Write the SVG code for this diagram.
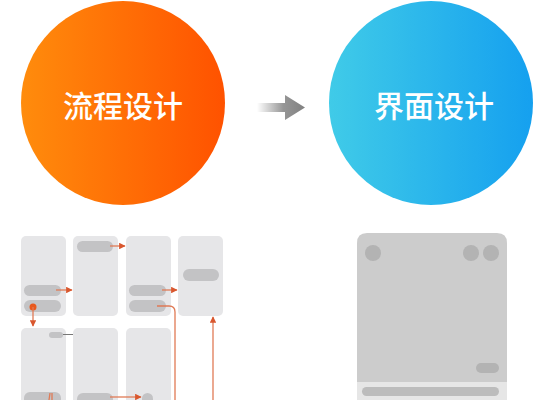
<svg xmlns="http://www.w3.org/2000/svg" width="554" height="400" viewBox="0 0 554 400">
<defs>
<linearGradient id="gOrange" x1="0" y1="0" x2="1" y2="0">
<stop offset="0" stop-color="#ff8c0c"/>
<stop offset="1" stop-color="#ff5200"/>
</linearGradient>
<linearGradient id="gBlue" x1="0" y1="0" x2="1" y2="0">
<stop offset="0" stop-color="#40cbe8"/>
<stop offset="1" stop-color="#15a0ef"/>
</linearGradient>
<linearGradient id="gArrow" x1="257" y1="0" x2="305" y2="0" gradientUnits="userSpaceOnUse">
<stop offset="0" stop-color="#8a8a8a" stop-opacity="0"/>
<stop offset="0.55" stop-color="#8a8a8a" stop-opacity="0.9"/>
<stop offset="1" stop-color="#808080"/>
</linearGradient>
<marker id="ah" viewBox="0 0 10 10" refX="9" refY="5" markerWidth="5" markerHeight="5" orient="auto">
<path d="M0,0 L10,5 L0,10 Z" fill="#d9572e"/>
</marker>
<style>
.title{font-family:"Noto Sans CJK SC","Noto Sans",sans-serif;font-size:30px;font-weight:500;fill:#ffffff;text-anchor:middle;}
.card{fill:#e6e6e8;}
.pill{fill:#c3c3c5;}
.conn{fill:none;stroke:#e07a55;stroke-width:1.3;}
</style>
</defs>
<rect width="554" height="400" fill="#ffffff"/>

<g id="flow-circle">
<circle cx="123" cy="103" r="102" fill="url(#gOrange)"/>
<text class="title" x="123" y="117">流程设计</text>
</g>
<g id="ui-circle">
<circle cx="431" cy="103" r="102" fill="url(#gBlue)"/>
<text class="title" x="434" y="117">界面设计</text>
</g>
<g id="big-arrow">
<path d="M257,103 L285,103 L285,95 L305,107.5 L285,120 L285,112 L257,112 Z" fill="url(#gArrow)"/>
</g>

<g id="flow-cards">
<rect class="card" x="21" y="236" width="45" height="80" rx="5"/>
<rect class="card" x="73" y="236" width="45" height="80" rx="5"/>
<rect class="card" x="126" y="236" width="45" height="80" rx="5"/>
<rect class="card" x="178" y="236" width="45" height="80" rx="5"/>
<rect class="card" x="21" y="328" width="45" height="90" rx="5"/>
<rect class="card" x="73" y="328" width="45" height="90" rx="5"/>
<rect class="card" x="126" y="328" width="45" height="90" rx="5"/>

<rect class="pill" x="24" y="285" width="37" height="11" rx="5.5"/>
<rect class="pill" x="24" y="300" width="37" height="12" rx="6"/>
<rect class="pill" x="77" y="241" width="36" height="11" rx="5.5"/>
<rect class="pill" x="129" y="285" width="37" height="11" rx="5.5"/>
<rect class="pill" x="129" y="300" width="37" height="12" rx="6"/>
<rect class="pill" x="183" y="269" width="36" height="12" rx="6"/>
<rect class="pill" x="49" y="332" width="14" height="6" rx="3"/>
<rect class="pill" x="24" y="392" width="37" height="14" rx="6"/>
<rect class="pill" x="77" y="393" width="36" height="14" rx="6"/>
<rect class="pill" x="142" y="393" width="11" height="14" rx="5.5"/>
</g>

<g id="connectors">
<circle cx="33" cy="307" r="3.5" fill="#e8591e"/>
<line class="conn" x1="33" y1="307" x2="33" y2="326" marker-end="url(#ah)"/>
<line class="conn" x1="56" y1="290" x2="72" y2="290" marker-end="url(#ah)"/>
<line class="conn" x1="110" y1="246" x2="125" y2="246" marker-end="url(#ah)"/>
<line class="conn" x1="162" y1="290" x2="177" y2="290" marker-end="url(#ah)"/>
<path class="conn" d="M157,306 L169,306 Q175,306 175,312 L175,400"/>
<line class="conn" x1="213" y1="400" x2="213" y2="317" marker-end="url(#ah)"/>
<line class="conn" x1="110" y1="397" x2="141" y2="397" marker-end="url(#ah)"/>
<line x1="63" y1="334.5" x2="73" y2="334.5" stroke="#777777" stroke-width="1"/>
<path class="conn" d="M49,400 L50,393 M52,400 L52,393" stroke-width="0.8"/>
</g>

<g id="ui-screen">
<path d="M367,233 L497,233 Q507,233 507,243 L507,382 L357,382 L357,243 Q357,233 367,233 Z" fill="#cccccc"/>
<rect x="357" y="382" width="150" height="18" fill="#e6e6e6"/>
<rect x="362" y="387" width="137" height="9" rx="4.5" fill="#bcbcbc"/>
<circle cx="373" cy="253" r="8" fill="#b3b3b3"/>
<circle cx="471" cy="253" r="8" fill="#b3b3b3"/>
<circle cx="491" cy="253" r="8" fill="#b3b3b3"/>
<rect x="476" y="363" width="23" height="10" rx="5" fill="#b3b3b3"/>
</g>
</svg>
